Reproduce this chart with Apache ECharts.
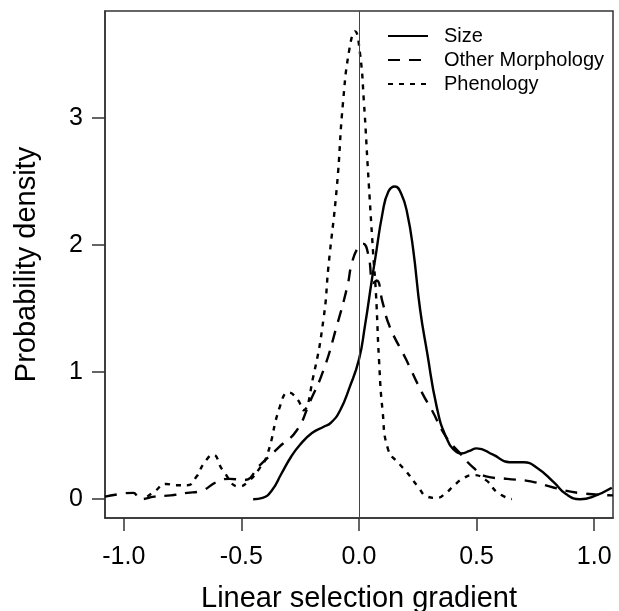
<!DOCTYPE html>
<html>
<head>
<meta charset="utf-8">
<script src="https://cdn.jsdelivr.net/npm/echarts@6/dist/echarts.min.js"></script>
<style>
  html, body { margin: 0; padding: 0; background: #fff; }
  #chart { width: 619px; height: 611px; }
</style>
</head>
<body>
<div id="chart"></div>
<script>
// density curves
const sizeX = [-0.45, -0.41, -0.37, -0.33, -0.29, -0.25, -0.2, -0.15, -0.12, -0.08, -0.04, 0.0, 0.025, 0.055, 0.068, 0.1, 0.125, 0.153, 0.18, 0.205, 0.23, 0.26, 0.29, 0.33, 0.37, 0.415, 0.435, 0.47, 0.5, 0.57, 0.64, 0.7, 0.755, 0.83, 0.88, 0.94, 0.995, 1.075];
const sizeY = [0.0, 0.01, 0.07, 0.2, 0.33, 0.43, 0.52, 0.57, 0.6, 0.7, 0.88, 1.1, 1.36, 1.73, 1.88, 2.25, 2.42, 2.46, 2.4, 2.25, 1.97, 1.49, 1.15, 0.73, 0.49, 0.37, 0.36, 0.38, 0.4, 0.35, 0.29, 0.29, 0.25, 0.13, 0.04, 0.0, 0.02, 0.09];

const morphX = [-1.08, -1.02, -0.96, -0.93, -0.87, -0.8, -0.73, -0.68, -0.6, -0.55, -0.49, -0.42, -0.34, -0.265, -0.21, -0.15, -0.095, -0.05, -0.03, -0.004, 0.017, 0.04, 0.06, 0.075, 0.1, 0.13, 0.2, 0.27, 0.31, 0.37, 0.43, 0.485, 0.54, 0.63, 0.73, 0.83, 0.93, 1.08];
const morphY = [0.02, 0.04, 0.05, 0.0, 0.02, 0.03, 0.05, 0.06, 0.14, 0.16, 0.15, 0.27, 0.41, 0.54, 0.76, 1.02, 1.36, 1.67, 1.86, 1.98, 2.01, 1.92, 1.7, 1.72, 1.55, 1.36, 1.1, 0.83, 0.7, 0.49, 0.36, 0.25, 0.18, 0.16, 0.14, 0.09, 0.05, 0.03];

const phenoX = [-0.9, -0.87, -0.82, -0.78, -0.73, -0.69, -0.66, -0.62, -0.58, -0.51, -0.47, -0.42, -0.39, -0.336, -0.3, -0.26, -0.237, -0.195, -0.15, -0.13, -0.094, -0.068, -0.04, -0.017, 0.004, 0.021, 0.038, 0.06, 0.072, 0.085, 0.1, 0.124, 0.17, 0.2, 0.25, 0.29, 0.33, 0.37, 0.4, 0.44, 0.485, 0.54, 0.59, 0.65];
const phenoY = [0.02, 0.06, 0.12, 0.11, 0.11, 0.18, 0.28, 0.35, 0.23, 0.1, 0.14, 0.25, 0.35, 0.73, 0.84, 0.78, 0.7, 0.96, 1.43, 1.83, 2.46, 3.12, 3.55, 3.68, 3.51, 3.12, 2.59, 1.94, 1.62, 1.1, 0.7, 0.39, 0.28, 0.22, 0.1, 0.02, 0.01, 0.05, 0.1, 0.16, 0.19, 0.15, 0.05, 0.0];

const xTicks = [-1.0, -0.5, 0.0, 0.5, 1.0];
const yTicks = [0, 1, 2, 3];

const zip = (xs, ys) => xs.map((x, i) => [x, ys[i]]);
const font = '"Liberation Sans", Arial, sans-serif';
const ink = '#000';
const frame = '#333';

const lineSeries = (name, xs, ys, type) => ({
  name,
  type: 'line',
  data: zip(xs, ys),
  smooth: 0.5,
  symbol: 'none',
  lineStyle: { color: ink, width: 2.4, type },
  itemStyle: { color: ink },
  clip: true,
  z: 3,
});

const chart = echarts.init(document.getElementById('chart'));
chart.setOption({
  animation: false,
  backgroundColor: '#fff',
  textStyle: { fontFamily: font },
  grid: {
    left: 105, right: 6, top: 11, bottom: 93,
    outerBoundsMode: 'none',
    containLabel: false,
    show: true, borderColor: frame, borderWidth: 1.5,
  },
  legend: {
    orient: 'vertical',
    left: 387, top: 26, padding: 0,
    itemWidth: 40, itemHeight: 14, itemGap: 4,
    itemStyle: { opacity: 0 },
    textStyle: { fontSize: 20, color: ink, fontFamily: font, padding: [0, 0, 0, 11] },
    data: ['Size', 'Other Morphology', 'Phenology'],
  },
  xAxis: {
    type: 'value',
    min: -1.08, max: 1.08,
    name: 'Linear selection gradient',
    nameLocation: 'middle',
    nameGap: 66,
    nameTextStyle: { fontSize: 29, color: ink, fontFamily: font },
    axisLine: { show: true, onZero: false, lineStyle: { color: frame, width: 1.5 } },
    axisTick: { show: true, customValues: xTicks, length: 13, lineStyle: { color: frame, width: 1.5 } },
    axisLabel: {
      customValues: xTicks, margin: 27, fontSize: 25, color: ink, fontFamily: font,
      formatter: (v) => v.toFixed(1),
    },
    splitLine: { show: false },
  },
  yAxis: {
    type: 'value',
    min: -0.148, max: 3.84,
    name: 'Probability density',
    nameLocation: 'middle',
    nameGap: 64,
    nameTextStyle: { fontSize: 29, color: ink, fontFamily: font },
    axisLine: { show: true, onZero: false, lineStyle: { color: frame, width: 1.5 } },
    axisTick: { show: true, customValues: yTicks, length: 13, lineStyle: { color: frame, width: 1.5 } },
    axisLabel: {
      customValues: yTicks, margin: 22, fontSize: 25, color: ink, fontFamily: font,
      formatter: (v) => String(Math.round(v)),
    },
    splitLine: { show: false },
  },
  series: [
    Object.assign(lineSeries('Size', sizeX, sizeY, 'solid'), {
      markLine: {
        silent: true,
        symbol: ['none', 'none'],
        label: { show: false },
        lineStyle: { color: '#444', width: 1, type: 'solid' },
        data: [{ xAxis: 0 }],
      },
    }),
    lineSeries('Other Morphology', morphX, morphY, [12, 9]),
    lineSeries('Phenology', phenoX, phenoY, [5, 6]),
  ],
});
</script>
</body>
</html>
